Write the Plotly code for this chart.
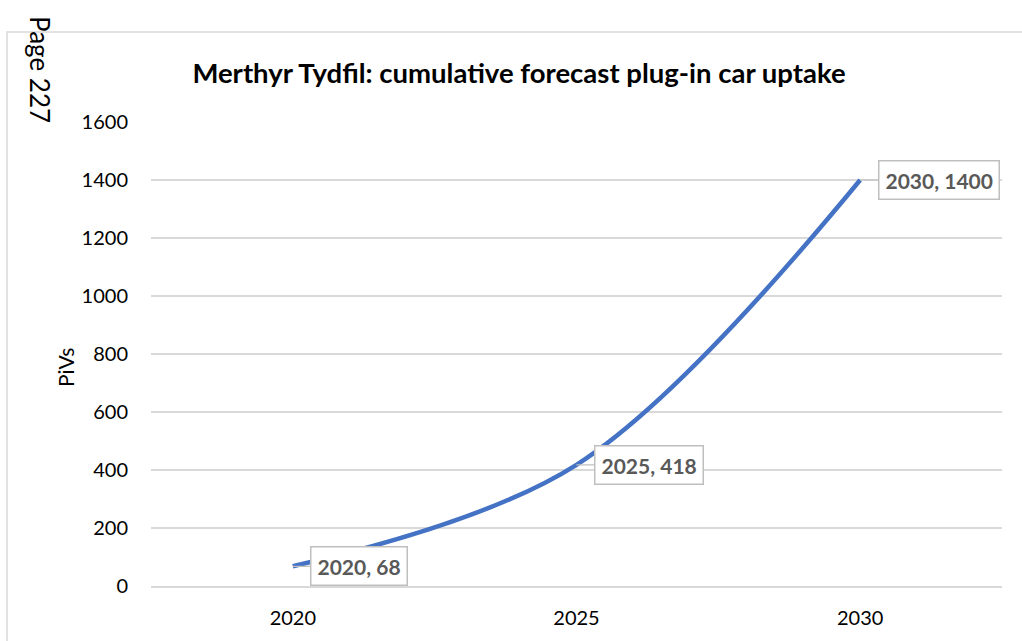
import plotly.graph_objects as go

# Forecast data
years = [2020, 2025, 2030]
pivs = [68, 418, 1400]
y_ticks = [0, 200, 400, 600, 800, 1000, 1200, 1400, 1600]

LINE_BLUE = "#4472C4"
GRID = "#D9D9D9"
TEXT = "#000000"
LABEL_TEXT = "#595959"
FONT = "Lato"

fig = go.Figure()
fig.add_trace(go.Scatter(
    x=years, y=pivs, mode="lines",
    line=dict(color=LINE_BLUE, width=4.5, shape="spline", smoothing=1.0),
    hoverinfo="skip",
))

# Data callouts
offsets = [(66, 0), (72, 0), (79, 0)]
for xv, yv, (ax, ay) in zip(years, pivs, offsets):
    fig.add_annotation(
        x=xv, y=yv, xref="x", yref="y",
        text=f"<b>{xv}, {yv}</b>",
        showarrow=True, ax=ax, ay=ay, axref="pixel", ayref="pixel",
        arrowhead=0, arrowwidth=1.2, arrowcolor="#BFBFBF", standoff=0,
        bgcolor="white", bordercolor="#BFBFBF", borderwidth=1.5, borderpad=6,
        font=dict(family=FONT, size=21, color=LABEL_TEXT),
    )

# Rotated page marker and axis title
fig.add_annotation(
    text="Page 227", xref="paper", yref="paper",
    x=(40 - 151) / 851, y=1 + (122 - 69) / 464,
    xanchor="center", yanchor="middle",
    showarrow=False, textangle=90,
    font=dict(family=FONT, size=26, color=TEXT),
)
fig.add_annotation(
    text="PiVs", xref="paper", yref="paper",
    x=(65 - 151) / 851, y=(586 - 368) / 464,
    xanchor="center", yanchor="middle",
    showarrow=False, textangle=-90,
    font=dict(family=FONT, size=21, color=TEXT),
)

# Chart frame
fig.add_shape(
    type="rect", xref="paper", yref="paper",
    x0=(7 - 151) / 851, x1=1.2, y0=-0.3, y1=1 + (122 - 32) / 464,
    line=dict(color=GRID, width=1.5), layer="below",
)

fig.update_layout(
    width=1022, height=641,
    margin=dict(l=151, r=20, t=122, b=55),
    paper_bgcolor="white", plot_bgcolor="white",
    showlegend=False,
    title=dict(
        text="<b>Merthyr Tydfil: cumulative forecast plug-in car uptake</b>",
        x=519 / 1022, xref="container", xanchor="center",
        y=1 - 73 / 641, yref="container", yanchor="middle",
        font=dict(family=FONT, size=27.5, color=TEXT),
    ),
    xaxis=dict(
        range=[2017.5, 2032.5], tickvals=years, ticktext=[str(y) for y in years],
        showgrid=False, zeroline=False, showline=True, linecolor=GRID, linewidth=1.5,
        ticks="", ticklabelstandoff=13, automargin=False,
        tickfont=dict(family=FONT, size=20, color=TEXT),
    ),
    yaxis=dict(
        range=[0, 1600], tickvals=y_ticks,
        showgrid=True, gridcolor=GRID, gridwidth=1.5,
        zeroline=False, showline=False, ticks="", ticklabelstandoff=22,
        automargin=False,
        tickfont=dict(family=FONT, size=20, color=TEXT),
    ),
)

fig.write_html("out.html")
